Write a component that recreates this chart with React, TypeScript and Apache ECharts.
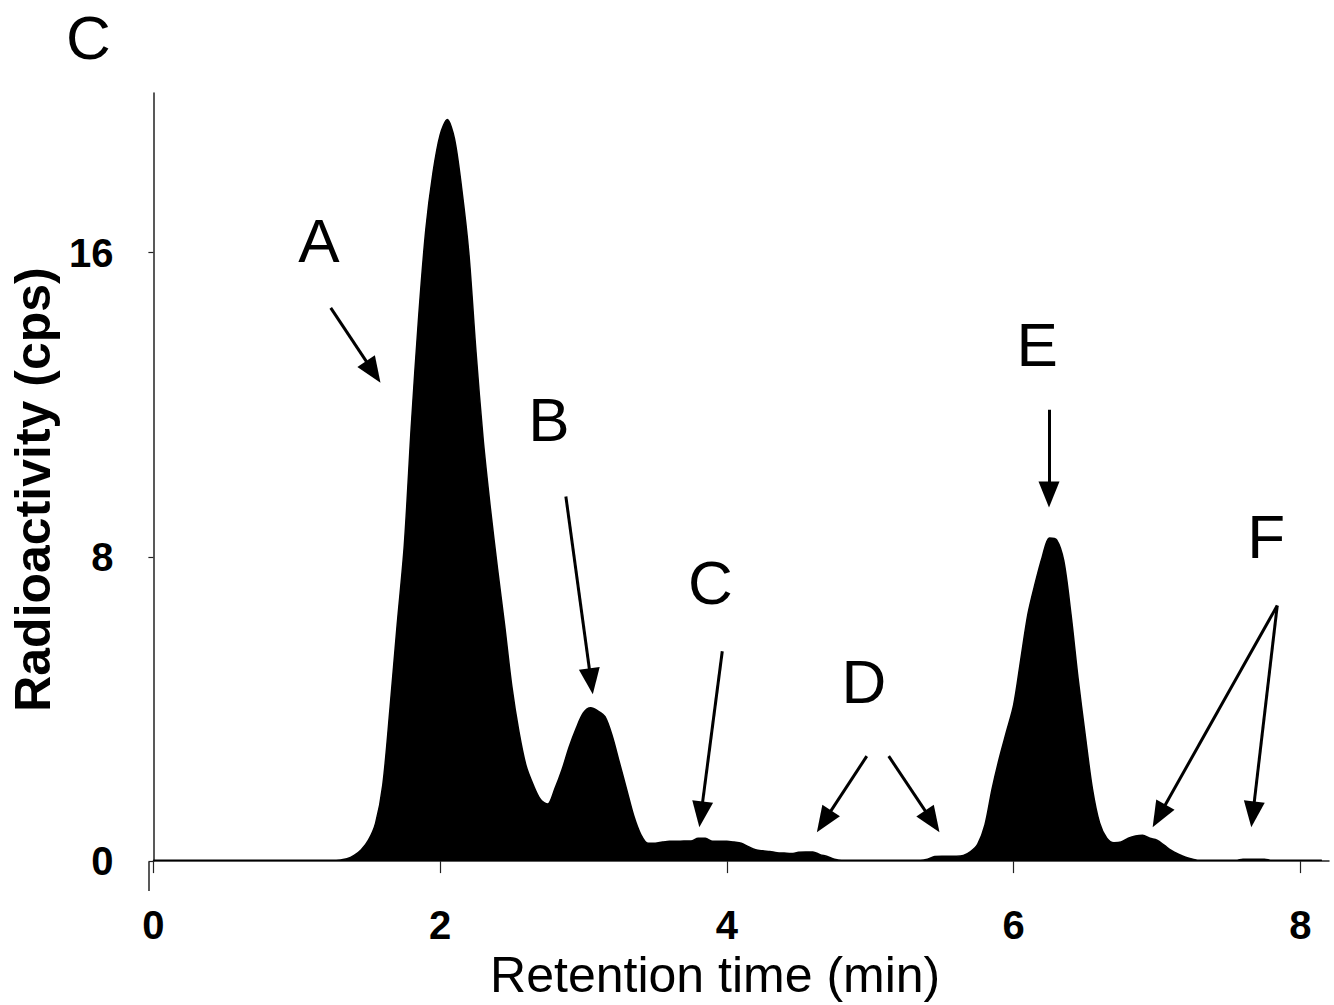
import React, { useEffect, useRef } from "react";
import * as echarts from "echarts";

// Retention time (min) and radioactivity (cps)
const retentionTime = [
  0, 0.5, 1.0, 1.25, 1.3, 1.35, 1.4, 1.45, 1.5, 1.55, 1.6, 1.65, 1.7, 1.75, 1.8, 1.85, 1.9, 1.95,
  2.0, 2.05, 2.1, 2.15, 2.2, 2.25, 2.3, 2.35, 2.4, 2.45, 2.5, 2.55, 2.6, 2.65, 2.7, 2.75,
  2.8, 2.85, 2.9, 2.95, 3.0, 3.05, 3.1, 3.15, 3.2, 3.25, 3.3, 3.35, 3.4, 3.45, 3.5, 3.55,
  3.6, 3.65, 3.7, 3.75, 3.8, 3.85, 3.9, 3.95, 4.0, 4.05, 4.1, 4.15, 4.2, 4.25, 4.3, 4.35,
  4.4, 4.45, 4.5, 4.55, 4.6, 4.65, 4.7, 4.75, 4.8, 4.9, 5.0, 5.1, 5.2, 5.3, 5.35, 5.4,
  5.45, 5.5, 5.55, 5.6, 5.65, 5.7, 5.75, 5.8, 5.85, 5.9, 5.95, 6.0, 6.05, 6.1, 6.15, 6.2,
  6.25, 6.3, 6.35, 6.4, 6.45, 6.5, 6.55, 6.6, 6.65, 6.7, 6.75, 6.8, 6.85, 6.9, 6.95, 7.0,
  7.05, 7.1, 7.15, 7.2, 7.25, 7.3, 7.4, 7.5, 7.55, 7.6, 7.65, 7.7, 7.75, 7.8, 7.9, 8.0, 8.15,
];
const radioactivity = [
  0.02, 0.02, 0.02, 0.02, 0.03, 0.06, 0.15, 0.3, 0.55, 1.0, 2.0, 4.0, 6.2, 8.3, 11.5, 14.3, 16.6, 18.1,
  19.1, 19.5, 19.0, 17.7, 16.0, 13.4, 11.1, 9.3, 7.7, 6.2, 4.6, 3.4, 2.5, 2.0, 1.62, 1.5,
  1.9, 2.4, 3.0, 3.5, 3.9, 4.03, 3.95, 3.8, 3.3, 2.6, 1.9, 1.2, 0.7, 0.47, 0.47, 0.5,
  0.52, 0.52, 0.53, 0.53, 0.6, 0.6, 0.52, 0.52, 0.52, 0.5, 0.47, 0.38, 0.3, 0.27, 0.25, 0.22,
  0.21, 0.2, 0.23, 0.24, 0.24, 0.17, 0.12, 0.05, 0.02, 0.02, 0.02, 0.02, 0.02, 0.02, 0.02, 0.05,
  0.12, 0.13, 0.13, 0.13, 0.15, 0.25, 0.45, 0.95, 1.9, 2.7, 3.4, 4.1, 5.3, 6.5, 7.3, 8.0,
  8.5, 8.45, 7.9, 6.5, 4.8, 3.3, 1.9, 1.0, 0.6, 0.48, 0.5, 0.6, 0.66, 0.68, 0.6, 0.55,
  0.42, 0.28, 0.18, 0.1, 0.05, 0.02, 0.02, 0.02, 0.02, 0.05, 0.05, 0.05, 0.05, 0.02, 0.02, 0.02, 0.02,
];

const xTicks = [0, 2, 4, 6, 8];
const yTicks = [0, 8, 16];

// Peak labels (data coordinates of letter centres)
const peakLabels = ["A", "B", "C", "D", "E", "F"];
const peakLabelX = [1.154, 2.759, 3.885, 4.955, 6.164, 7.762];
const peakLabelY = [16.31, 11.61, 7.33, 4.73, 13.58, 8.54];

// Arrows: start and tip in data coordinates
const arrowStartX = [1.237, 2.877, 3.968, 4.976, 5.129, 6.247, 7.839, 7.839];
const arrowStartY = [14.55, 9.59, 5.52, 2.76, 2.76, 11.87, 6.72, 6.72];
const arrowTipX = [1.584, 3.065, 3.808, 4.628, 5.483, 6.247, 6.97, 7.658];
const arrowTipY = [12.58, 4.39, 0.89, 0.76, 0.76, 9.3, 0.89, 0.89];

const X_MAX = 8.2;
const Y_MAX = 20.2;
const GRID = { left: 149, top: 93, width: 1180, height: 769 };
const HEAD_LEN = 26;
const FONT = "'Liberation Sans', Arial, Helvetica, sans-serif";

export default function App() {
  const ref = useRef<HTMLDivElement>(null);

  useEffect(() => {
    document.body.style.margin = "0";
    if (!ref.current) return;
    const chart = echarts.init(ref.current, undefined, { renderer: "svg" });

    const sx = GRID.width / X_MAX;
    const sy = GRID.height / Y_MAX;
    const arrows = arrowStartX.map((x0, i) => {
      const y0 = arrowStartY[i];
      const x1 = arrowTipX[i];
      const y1 = arrowTipY[i];
      const dxp = (x1 - x0) * sx;
      const dyp = (y1 - y0) * sy;
      const len = Math.sqrt(dxp * dxp + dyp * dyp);
      const k = (HEAD_LEN / 2) / len;
      return [
        { coord: [x0, y0] },
        { coord: [x1 - (x1 - x0) * k, y1 - (y1 - y0) * k] },
      ];
    });

    chart.setOption({
      animation: false,
      backgroundColor: "#ffffff",
      title: {
        text: "C",
        left: 66,
        top: 6,
        padding: 0,
        textStyle: { fontFamily: FONT, fontSize: 62, lineHeight: 62, fontWeight: "normal", color: "#000" },
      },
      grid: { left: GRID.left, top: GRID.top, width: GRID.width, height: GRID.height },
      xAxis: {
        type: "value",
        min: 0,
        max: X_MAX,
        interval: 2,
        name: "Retention time (min)",
        nameLocation: "middle",
        nameGap: 85,
        nameTextStyle: { fontFamily: FONT, fontSize: 50, color: "#000", padding: [0, 52, 0, 0] },
        axisLine: { show: true, onZero: false, lineStyle: { color: "#222", width: 1.5 } },
        axisTick: { show: true, inside: false, length: 12, customValues: xTicks, lineStyle: { color: "#222", width: 1.2 } },
        axisLabel: {
          customValues: xTicks,
          margin: 44,
          fontFamily: FONT,
          fontSize: 40,
          fontWeight: "bold",
          color: "#000",
        },
        splitLine: { show: false },
      },
      yAxis: {
        type: "value",
        min: 0,
        max: Y_MAX,
        interval: 8,
        name: "Radioactivity (cps)",
        nameLocation: "middle",
        nameGap: 86,
        nameTextStyle: { fontFamily: FONT, fontSize: 50, fontWeight: "bold", color: "#000", padding: [0, 25, 0, 0] },
        axisLine: { show: true, lineStyle: { color: "#222", width: 1.5 } },
        axisTick: { show: true, inside: false, length: 5, customValues: yTicks, lineStyle: { color: "#222", width: 1.2 } },
        axisLabel: {
          customValues: yTicks,
          margin: 40,
          fontFamily: FONT,
          fontSize: 40,
          fontWeight: "bold",
          color: "#000",
        },
        splitLine: { show: false },
      },
      graphic: [
        {
          type: "line",
          shape: { x1: GRID.left, y1: GRID.top + GRID.height, x2: GRID.left, y2: GRID.top + GRID.height + 29 },
          style: { stroke: "#222", lineWidth: 1.5 },
        },
      ],
      series: [
        {
          type: "line",
          name: "Radioactivity",
          data: retentionTime.map((t, i) => [t, radioactivity[i]]),
          showSymbol: false,
          symbol: "none",
          smooth: 0.3,
          lineStyle: { color: "#000", width: 1.5 },
          areaStyle: { color: "#000", opacity: 1 },
          z: 2,
          markLine: {
            silent: true,
            symbol: ["none", "triangle"],
            symbolSize: [21, HEAD_LEN],
            lineStyle: { color: "#000", width: 3, type: "solid" },
            label: { show: false },
            data: arrows,
            z: 5,
          },
          markPoint: {
            silent: true,
            symbol: "circle",
            symbolSize: 1,
            itemStyle: { color: "rgba(0,0,0,0)" },
            label: {
              show: true,
              position: "inside",
              formatter: "{b}",
              fontFamily: FONT,
              fontSize: 62,
              color: "#000",
            },
            data: peakLabels.map((l, i) => ({ name: l, coord: [peakLabelX[i], peakLabelY[i]] })),
          },
        },
      ],
    });

    return () => chart.dispose();
  }, []);

  return <div ref={ref} style={{ width: 1334, height: 1005 }} />;
}
